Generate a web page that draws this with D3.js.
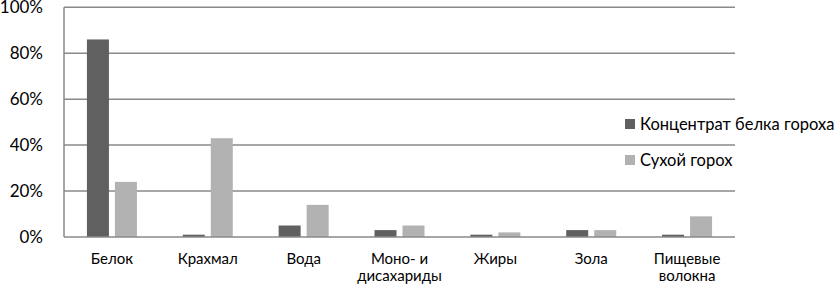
<!DOCTYPE html>
<html>
<head>
<meta charset="utf-8">
<script src="https://cdn.jsdelivr.net/npm/d3@7"></script>
<style>
  body { margin: 0; background: #fff; }
  text { font-family: Lato, "Open Sans", sans-serif; fill: #000; }
</style>
</head>
<body>
<svg id="chart" width="839" height="287"></svg>
<script>
// categories (labels split on two lines where the original wraps)
var categories = ["Белок", "Крахмал", "Вода", "Моно- и|дисахариды", "Жиры", "Зола", "Пищевые|волокна"];
var seriesNames = ["Концентрат белка гороха", "Сухой горох"];
var concentrate = [86, 1, 5, 3, 1, 3, 1];
var dryPea = [24, 43, 14, 5, 2, 3, 9];
var yTicks = [0, 20, 40, 60, 80, 100];
var colors = ["#606060", "#b2b2b2"];

var svg = d3.select("#chart");
var plotL = 64, plotR = 735, plotT = 7.3, plotB = 237;

var x = d3.scaleBand()
    .domain(d3.range(categories.length))
    .range([plotL, plotR]);

var y = d3.scaleLinear()
    .domain([0, 100])
    .range([plotB, plotT]);

// gridlines
svg.append("g")
  .selectAll("line")
  .data(yTicks.slice(1))
  .enter().append("line")
    .attr("x1", plotL).attr("x2", plotR)
    .attr("y1", function(d){ return y(d); })
    .attr("y2", function(d){ return y(d); })
    .style("stroke", "#8a8a8a")
    .style("stroke-width", 1.5);

// bars
var barW = 22, gap = 6;
var series = [concentrate, dryPea];
series.forEach(function(vals, s) {
  svg.append("g")
    .selectAll("rect")
    .data(vals)
    .enter().append("rect")
      .attr("x", function(d, i){
        var c = x(i) + x.bandwidth()/2;
        return s === 0 ? c - gap/2 - barW : c + gap/2;
      })
      .attr("y", function(d){ return y(d); })
      .attr("width", barW)
      .attr("height", function(d){ return plotB - y(d); })
      .style("fill", colors[s]);
});

// axis lines
svg.append("line")
  .attr("x1", plotL).attr("x2", plotL)
  .attr("y1", plotT).attr("y2", plotB)
  .style("stroke", "#8a8a8a").style("stroke-width", 1.5);
svg.append("line")
  .attr("x1", plotL).attr("x2", plotR)
  .attr("y1", plotB).attr("y2", plotB)
  .style("stroke", "#8a8a8a").style("stroke-width", 1.5);

// y tick labels
svg.append("g")
  .selectAll("text")
  .data(yTicks)
  .enter().append("text")
    .attr("x", 43)
    .attr("y", function(d){ return y(d); })
    .attr("dy", "0.36em")
    .attr("text-anchor", "end")
    .style("font-size", "17px")
    .text(function(d){ return d + "%"; });

// x labels
var xl = svg.append("g")
  .selectAll("text")
  .data(categories)
  .enter().append("text")
    .attr("text-anchor", "middle")
    .style("font-size", "15px");
xl.each(function(d, i) {
  var t = d3.select(this);
  d.split("|").forEach(function(line, j) {
    t.append("tspan")
      .attr("x", x(i) + x.bandwidth()/2)
      .attr("y", 264 + j * 17)
      .text(line);
  });
});

// legend
var legend = svg.append("g")
  .selectAll("g")
  .data(seriesNames)
  .enter().append("g")
    .attr("transform", function(d, i){ return "translate(625," + (119 + i * 36) + ")"; });
legend.append("rect")
  .attr("width", 10).attr("height", 10)
  .style("fill", function(d, i){ return colors[i]; });
legend.append("text")
  .attr("x", 15).attr("y", 10.5)
  .style("font-size", "16.5px")
  .text(function(d){ return d; });
</script>
</body>
</html>
